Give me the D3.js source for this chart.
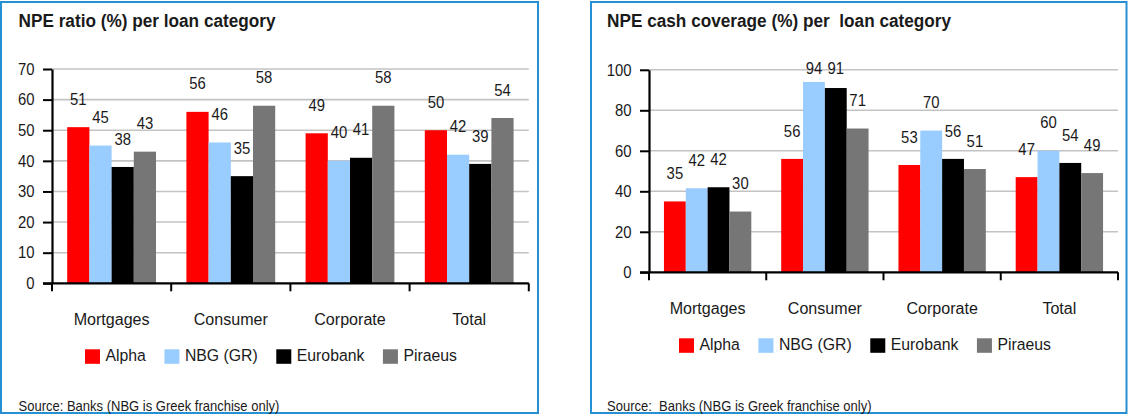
<!DOCTYPE html>
<html>
<head>
<meta charset="utf-8">
<script src="https://cdn.jsdelivr.net/npm/d3@7/dist/d3.min.js"></script>
<style>
  html, body { margin: 0; padding: 0; background: #ffffff; }
  svg { display: block; }
  text { font-family: "Liberation Sans", Arial, sans-serif; fill: #1a1a1a; white-space: pre; }
</style>
</head>
<body>
<svg id="chart" width="1128" height="416"></svg>
<script>
// ---------- DATA ----------
const categories = ["Mortgages", "Consumer", "Corporate", "Total"];
const banks = ["Alpha", "NBG (GR)", "Eurobank", "Piraeus"];

// NPE ratio (%) per loan category
const ratioAlpha    = [51, 56, 49, 50];
const ratioNBG      = [45, 46, 40, 42];
const ratioEurobank = [38, 35, 41, 39];
const ratioPiraeus  = [43, 58, 58, 54];
const ratioTicks    = [0, 10, 20, 30, 40, 50, 60, 70];

// NPE cash coverage (%) per loan category
const covAlpha    = [35, 56, 53, 47];
const covNBG      = [41.5, 94, 70, 60];
const covEurobank = [42, 91, 56, 54];
const covPiraeus  = [30, 71, 51, 49];
const covTicks    = [0, 20, 40, 60, 80, 100];

const titles  = ["NPE ratio (%) per loan category", "NPE cash coverage (%) per  loan category"];
const sources = ["Source: Banks (NBG is Greek franchise only)", "Source:  Banks (NBG is Greek franchise only)"];

// ---------- STYLE / LAYOUT ----------
const colors = ["#ff0000", "#99ccff", "#000000", "#767676"];
const SX = 0.93; // horizontal text compression seen in the reference
const svg = d3.select("#chart");

const panels = [
  { frame: [1, 2, 537, 411], titleX: 18.5, xL: 52, xR: 528.8, yTop: 69, yBot: 283.3,
    ticks: ratioTicks, series: [ratioAlpha, ratioNBG, ratioEurobank, ratioPiraeus],
    legendX: 85, title: titles[0], source: sources[0] },
  { frame: [591, 2, 535.5, 411], titleX: 607, xL: 649, xR: 1118, yTop: 69.8, yBot: 272.3,
    ticks: covTicks, series: [covAlpha, covNBG, covEurobank, covPiraeus],
    legendX: 679, title: titles[1], source: sources[1] }
];

function txt(g, x, y, s, size, anchor, weight) {
  return g.append("text")
    .attr("transform", `translate(${x},${y}) scale(${SX},1)`)
    .attr("text-anchor", anchor || "start")
    .attr("font-size", size)
    .attr("font-weight", weight || "normal")
    .text(s);
}

panels.forEach(p => {
  const g = svg.append("g");
  // frame
  g.append("rect")
    .attr("x", p.frame[0]).attr("y", p.frame[1])
    .attr("width", p.frame[2]).attr("height", p.frame[3])
    .attr("fill", "none").attr("stroke", "#2790d2").attr("stroke-width", 2);

  txt(g, p.titleX, 26.7, p.title, 18.5, "start", "bold");

  const yMax = d3.max(p.ticks);
  const y = d3.scaleLinear().domain([0, yMax]).range([p.yBot, p.yTop]);
  const x0 = d3.scaleBand().domain(categories).range([p.xL, p.xR]).padding(0);
  const bw = x0.bandwidth();
  const x1 = d3.scaleBand().domain(banks).range([bw * 0.1275, bw * (1 - 0.1275)]).padding(0);

  // gridlines
  g.append("g").selectAll("line").data(p.ticks.filter(t => t > 0)).join("line")
    .attr("x1", p.xL).attr("x2", p.xR)
    .attr("y1", d => y(d)).attr("y2", d => y(d))
    .attr("stroke", "#c3c3c3").attr("stroke-width", 1.6);

  // bars
  const rows = categories.map((c, i) => ({ c, vals: banks.map((b, j) => ({ b, j, v: p.series[j][i] })) }));
  const grp = g.append("g").selectAll("g").data(rows).join("g")
    .attr("transform", d => `translate(${x0(d.c)},0)`);
  grp.selectAll("rect").data(d => d.vals).join("rect")
    .attr("x", d => x1(d.b)).attr("width", x1.bandwidth())
    .attr("y", d => y(d.v)).attr("height", d => y(0) - y(d.v))
    .attr("fill", d => colors[d.j]);

  // value labels
  const fmt = d3.format(".0f");
  grp.each(function(d) {
    const gg = d3.select(this);
    d.vals.forEach(v => {
      const cy = Math.max(y(v.v) - 28, y(yMax) - 1);
      txt(gg, x1(v.b) + x1.bandwidth() / 2, cy + 5.6, fmt(v.v), 16, "middle");
    });
  });

  // y axis
  const yAxis = d3.axisLeft(y).tickValues(p.ticks).tickSize(9).tickSizeOuter(0).tickPadding(7);
  const ya = g.append("g").attr("transform", `translate(${p.xL},0)`).call(yAxis);
  ya.select(".domain").attr("stroke", "#000").attr("stroke-width", 2.2);
  ya.selectAll(".tick line").attr("stroke", "#000").attr("stroke-width", 2);
  ya.selectAll(".tick text").remove();
  p.ticks.forEach(t => txt(g, p.xL - 17.5, y(t) + 5.7, String(t), 16, "end"));

  // x axis (ticks at band boundaries)
  g.append("line").attr("x1", p.xL - 9).attr("x2", p.xR).attr("y1", y(0)).attr("y2", y(0))
    .attr("stroke", "#000").attr("stroke-width", 2.2);
  const bounds = categories.map(c => x0(c)).concat([p.xR]);
  g.append("g").selectAll("line").data(bounds).join("line")
    .attr("x1", d => d).attr("x2", d => d).attr("y1", y(0)).attr("y2", y(0) + 8)
    .attr("stroke", "#000").attr("stroke-width", 2);
  categories.forEach(c => txt(g, x0(c) + bw / 2, y(0) + 41.5, c, 17.3, "middle"));

  // legend
  let lx = p.legendX;
  const ly = y(0) + 66;
  banks.forEach((b, j) => {
    g.append("rect").attr("x", lx).attr("y", ly).attr("width", 15).attr("height", 14.5)
      .attr("fill", colors[j]);
    const t = txt(g, lx + 20.5, ly + 11.8, b, 17, "start");
    const w = t.node().getComputedTextLength() * SX;
    lx = lx + 20.5 + w + 18.5;
  });

  txt(g, p.titleX, 410.5, p.source, 14, "start");
});
</script>
</body>
</html>
